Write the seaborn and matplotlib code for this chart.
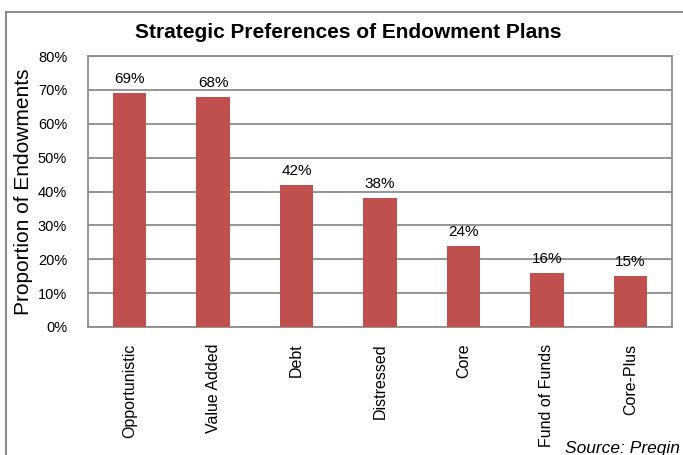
import matplotlib
matplotlib.use("Agg")
import matplotlib.pyplot as plt
import seaborn as sns
import pandas as pd
from matplotlib.lines import Line2D

categories = ["Opportunistic", "Value Added", "Debt", "Distressed", "Core",
              "Fund of Funds", "Core-Plus"]
shares = [69, 68, 42, 38, 24, 16, 15]
yticks = [0, 10, 20, 30, 40, 50, 60, 70, 80]

sns.set_style("white")
plt.rcParams["font.family"] = ["Liberation Sans", "DejaVu Sans"]
plt.rcParams["text.color"] = "black"
plt.rcParams["axes.labelcolor"] = "black"
plt.rcParams["xtick.color"] = "black"
plt.rcParams["ytick.color"] = "black"

df = pd.DataFrame({"Strategy": categories, "Share": shares})

fig = plt.figure(figsize=(6.83, 4.55), dpi=100)
ax = fig.add_axes([88 / 683, 1 - 327 / 455, (672 - 88) / 683, (327 - 56) / 455])

sns.barplot(data=df, x="Strategy", y="Share", color="#C0504D", saturation=1,
            width=0.4, linewidth=0, ax=ax, zorder=3)

ax.set_ylim(0, 80)
ax.set_yticks(yticks)
ax.set_yticklabels([f"{v}%" for v in yticks], fontsize=10.5)
ax.yaxis.grid(True, color="#8c8c8c", linewidth=1.3, zorder=0)
ax.set_axisbelow(True)
for s in ax.spines.values():
    s.set_color("#8c8c8c")
    s.set_linewidth(1.3)
ax.tick_params(axis="y", length=0, pad=15)
ax.tick_params(axis="x", length=0, pad=12)
ax.set_xticks(range(len(categories)))
ax.set_xticklabels(categories, rotation=90, fontsize=11.5, va="top")
ax.set_xlabel("")
ax.set_ylabel("Proportion of Endowments", fontsize=15)
ax.yaxis.set_label_coords(-55 / 584, 0.5)

for i, v in enumerate(shares):
    ax.annotate(f"{v}%", (i, v), xytext=(0, 5), textcoords="offset points",
                ha="center", va="bottom", fontsize=11)

fig.text(348 / 683, 1 - 32 / 455,
         "Strategic Preferences of Endowment Plans",
         ha="center", va="center", fontsize=15, fontweight="bold")
fig.text(565 / 683, 1 - 449 / 455, "Source: Preqin", ha="left", va="center",
         fontsize=12.5, style="italic")

# outer frame
fig.add_artist(Line2D([6 / 683, 6 / 683], [0, 1 - 12 / 455],
                      transform=fig.transFigure, color="#8c8c8c", lw=1.5))
fig.add_artist(Line2D([6 / 683, 1], [1 - 12 / 455, 1 - 12 / 455],
                      transform=fig.transFigure, color="#8c8c8c", lw=1.5))

fig.savefig("out.png", dpi=100)
